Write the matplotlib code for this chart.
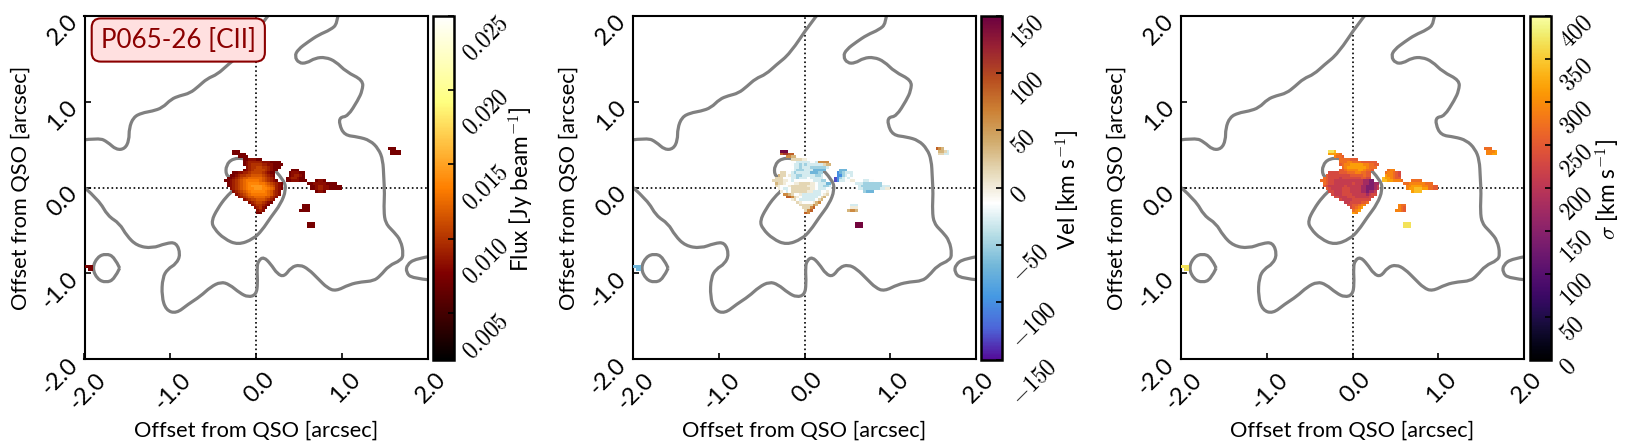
"""
Mapas de flujo, velocidad y dispersion de [CII] para P065-26, con el
contorno gris del continuo encima de cada panel.

Produce out.png.
"""
import matplotlib

matplotlib.use("Agg")
import matplotlib.pyplot as plt
import numpy as np
from matplotlib.colors import LinearSegmentedColormap
from matplotlib.patches import PathPatch
from matplotlib.path import Path
from matplotlib.transforms import ScaledTranslation

plt.rcParams["font.family"] = ["Lato", "DejaVu Sans"]
plt.rcParams["mathtext.fontset"] = "cm"

TICKS = [-2.0, -1.0, 0.0, 1.0, 2.0]
TICK_LABELS = ["-2.0", "-1.0", "0.0", "1.0", "2.0"]

FLUX_TICKS = [0.005, 0.010, 0.015, 0.020, 0.025]
VEL_TICKS = [-150, -100, -50, 0, 50, 100, 150]
SIGMA_TICKS = [0, 50, 100, 150, 200, 250, 300, 350, 400]

# niveles de cada caracter de los mapas
FLUX_LEVELS = [0.0073, 0.0083, 0.0092, 0.0100, 0.0108, 0.0116, 0.0124, 0.0131, 0.0138, 0.0146]
VEL_KEYS = "abcdefghijklm"
VEL_LEVELS = [-130, -100, -70, -50, -30, -15, 0, 15, 35, 60, 85, 110, 145]
SIGMA_KEYS = "abcdefghijk"
SIGMA_LEVELS = [140, 175, 210, 230, 250, 270, 292, 315, 340, 370, 395]

# pixeles con senal: fila y columna (relativas al centro) donde empieza cada tramo
RUN_ROW = [-15, -14, -14, -13, -13, -12, -11, -10, -9, -8, -7, -7, -6, -6, -5, -5, -4, -4,
           -3, -3, -3, -2, -2, -1, -1, 0, 0, 1, 1, 2, 3, 4, 5, 6, 6, 7, 7, 8, 8, 9, 13, 14, 29, 30]
RUN_COL = [49, -9, 50, -9, 50, -7, -5, -5, -5, -4, -5, 13, -9, 12, -10, 12, -11, 11,
           -12, 11, 22, -11, 19, -11, 20, -10, 20, -9, 22, -8, -7, -5, -3, -2, 17, -1, 17, 0, 16, 0, 19, 19, -64, -63]

FLUX_RUNS = ["000", "000", "0000", "00000", "0000", "0000", "0011100", "01222221110000",
             "012333322110000", "1233443321000", "0123444432100", "000", "0011223444432100", "011100",
             "00123344555543210", "012210", "001234556666654321", "0122100", "00123456777776543210",
             "00111000", "0110", "012345678888776543210", "00111110000", "012345678999987654210",
             "001221100000", "12345678899988765210", "001221100000", "123456788888765321", "0110",
             "12345677777765321", "123455666655321", "123445554321", "123443210", "1233210", "000",
             "12310", "000", "121", "0000", "00", "000", "000", "000", "00"]
VEL_RUNS = ["kji", "mmm", "iihe", "kllkk", "hhee", "jjii", "hhhhggf", "ffeeeeeffejjjj",
            "feededeeeeeehii", "eedeeedddddde", "fedddeeeccccc", "ccc", "hhffedeeeeecccdd", "bcdeee",
            "ihhfgeeddeeeeedde", "bbdefe", "hhhfffeedeeefeeeee", "abdefef", "hhhhggfefffffffeeedd",
            "abeeffgg", "eeff", "ihhgfffgghhhhggfeeecc", "eeedddddddf", "hgfffghhhhhhgggfeedde",
            "eddddddddeee", "gfeefhhhhhhhggfeeeff", "eeddddddeegg", "gfefhhhhhhggeeeffg", "dccc",
            "jjihffgeeeeeeefgh", "kkjhgfeeeeeefhi", "ghfeeeeeefhi", "hgffffgij", "hhhhhji", "eee",
            "hhhjk", "ggg", "hjk", "ijji", "kj", "mmm", "mmm", "ccc", "cc"]
SIGMA_RUNS = ["fff", "jji", "gggh", "hhhgf", "gghh", "gffe", "ffffeee", "fffggfffeeeeee",
              "efgghhhhhggffee", "fghhhhhhhgfff", "eefgggghhgffe", "fgg", "ddddeeefffggffee", "fggfed",
              "eddddddddeeeeefee", "hggfed", "feddddcdddddddeedd", "ihhgfee", "ffeddcccccccccccbbaa",
              "iihhgggf", "ffff", "feddcccccccdcccbbaabb", "ffggggggfff", "edccccccdcccccbbaaabc",
              "gghhhhggffee", "edccccdddccccbbaaabc", "ghhiiihhffee", "ddcccdddccccbbabbc", "hiii",
              "dcccddddcccccbcdd", "ddcccdddcccccdd", "dccccddddddd", "ccddddeef", "ddeefgg", "gff",
              "defgh", "gfe", "fgh", "ggfe", "hg", "jjj", "jjj", "jjj", "jj"]

# contornos del continuo, en arcsec
CONT_A_X = [-2.05, -1.83, -1.73, -1.63, -1.53, -1.48, -1.48, -1.43, -1.33, -1.21, -1.09, -0.99,
            -0.89, -0.77, -0.67, -0.57, -0.45, -0.33, -0.17, 0.07, 0.18]
CONT_A_Y = [0.55, 0.58, 0.53, 0.44, 0.45, 0.55, 0.69, 0.82, 0.87, 0.89, 0.93, 1.03,
            1.07, 1.10, 1.18, 1.27, 1.32, 1.43, 1.56, 1.92, 2.05]
CONT_B_X = [0.96, 0.95, 0.87, 0.73, 0.61, 0.49, 0.45, 0.50, 0.59, 0.69, 0.81, 0.93, 1.05, 1.25,
            1.24, 1.19, 1.07, 0.98, 0.97, 1.03, 1.19, 1.33, 1.43, 1.48, 1.49, 1.50, 1.49, 1.51,
            1.61, 1.69, 1.72, 1.69, 1.55, 1.45, 1.37, 1.23, 1.09, 0.93, 0.83, 0.73, 0.61, 0.51,
            0.41, 0.33, 0.25, 0.17, 0.09, 0.03, 0.01, 0.02, 0.00, -0.09, -0.19, -0.31, -0.41,
            -0.53, -0.65, -0.79, -0.93, -1.05, -1.10, -1.09, -1.03, -0.93, -0.88, -0.93, -1.05,
            -1.21, -1.39, -1.51, -1.59, -1.73, -1.83, -2.0]
CONT_B_Y = [2.05, 1.91, 1.84, 1.78, 1.70, 1.61, 1.53, 1.45, 1.45, 1.51, 1.52, 1.47, 1.35, 1.25,
            1.13, 1.02, 0.83, 0.82, 0.74, 0.61, 0.59, 0.55, 0.45, 0.32, 0.12, -0.07, -0.27, -0.42,
            -0.52, -0.62, -0.78, -0.85, -0.91, -1.03, -1.09, -1.10, -1.13, -1.21, -1.17, -1.07,
            -0.95, -0.90, -0.93, -1.04, -1.01, -0.89, -0.81, -0.85, -0.93, -1.13, -1.25, -1.28,
            -1.23, -1.13, -1.10, -1.16, -1.27, -1.36, -1.47, -1.43, -1.27, -1.05, -0.95, -0.89,
            -0.78, -0.64, -0.65, -0.71, -0.68, -0.56, -0.42, -0.33, -0.15, 0.00]
CONT_C_X = [0.23, 0.33, 0.35, 0.29, 0.17, 0.07, -0.03, -0.21, -0.37, -0.49, -0.52, -0.45, -0.35,
            -0.25, -0.29, -0.35, -0.35, -0.27, -0.13, 0.07, 0.23]
CONT_C_Y = [0.19, 0.08, -0.03, -0.19, -0.35, -0.50, -0.60, -0.67, -0.60, -0.48, -0.39, -0.25, -0.11,
            -0.02, 0.12, 0.14, 0.26, 0.34, 0.34, 0.28, 0.19]
CONT_D_X = [-1.59, -1.65, -1.75, -1.85, -1.91, -1.85, -1.75, -1.65, -1.59]
CONT_D_Y = [-0.94, -1.07, -1.11, -1.07, -0.94, -0.81, -0.77, -0.81, -0.94]
CONT_E_X = [2.05, 1.86, 1.76, 1.75, 1.82, 2.05]
CONT_E_Y = [-0.80, -0.83, -0.90, -0.99, -1.06, -1.08]

VEL_CMAP = LinearSegmentedColormap.from_list(
    "vel",
    [(0.33, 0.05, 0.60), (0.30, 0.40, 0.85), (0.27, 0.60, 0.89), (0.45, 0.72, 0.85), (0.72, 0.87, 0.90),
     (1.0, 1.0, 1.0), (0.90, 0.85, 0.72), (0.82, 0.67, 0.42), (0.80, 0.50, 0.20), (0.72, 0.30, 0.12),
     (0.60, 0.13, 0.20), (0.42, 0.0, 0.25)],
)

W, H = 1626.0, 443.0


def build_map(runs, levels, keys=None):
    img = np.full((128, 128), np.nan)
    for row, col, text in zip(RUN_ROW, RUN_COL, runs):
        for k, ch in enumerate(text):
            idx = keys.index(ch) if keys else int(ch)
            img[64 + row, 64 + col + k] = levels[idx]
    return np.ma.masked_invalid(img)


def smooth_path(xs, ys):
    # curva cuadratica: cada punto leido hace de control del tramo
    verts = [(xs[0], ys[0])]
    codes = [Path.MOVETO]
    for i in range(1, len(xs) - 1):
        verts.append((xs[i], ys[i]))
        if i < len(xs) - 2:
            verts.append(((xs[i] + xs[i + 1]) / 2, (ys[i] + ys[i + 1]) / 2))
        else:
            verts.append((xs[i + 1], ys[i + 1]))
        codes += [Path.CURVE3, Path.CURVE3]
    return Path(verts, codes)


def shift_labels(labels, fig, dx, dy):
    # corre las etiquetas rotadas, en pixeles
    offset = ScaledTranslation(dx / 100, dy / 100, fig.dpi_scale_trans)
    for lab in labels:
        lab.set_transform(lab.get_transform() + offset)


def panel(fig, x0, cbar_x0, img, cmap, vmin, vmax, cbar_ticks, cbar_fmt, cbar_label, label_x):
    ax = plt.axes([x0 / W, 1 - 359 / H, 343 / W, 343 / H])
    # contornos y cruz quedan por debajo del mapa
    ax.axhline(0, color="k", ls=":", lw=1.2, zorder=1)
    ax.axvline(0, color="k", ls=":", lw=1.2, zorder=1)
    for cx, cy in [(CONT_A_X, CONT_A_Y), (CONT_B_X, CONT_B_Y), (CONT_C_X, CONT_C_Y),
                   (CONT_D_X, CONT_D_Y), (CONT_E_X, CONT_E_Y)]:
        ax.add_patch(PathPatch(smooth_path(cx, cy), fc="none", ec="gray", lw=2.3, zorder=2))
    im = ax.imshow(img, cmap=cmap, vmin=vmin, vmax=vmax, extent=(-2, 2, -2, 2),
                   origin="upper", interpolation="nearest", zorder=3)
    ax.set_xlim(-2, 2)
    ax.set_ylim(-2, 2)
    ax.set_xticks(TICKS)
    ax.set_yticks(TICKS)
    ax.set_xticklabels(TICK_LABELS, rotation=45, fontsize=17)
    ax.set_yticklabels(TICK_LABELS, rotation=45, fontsize=17, va="top")
    ax.tick_params(direction="in", length=4, width=1.2, pad=5)
    ax.tick_params(axis="y", pad=2)
    shift_labels(ax.get_yticklabels(), fig, 0, 5)
    shift_labels(ax.get_xticklabels(), fig, 3, -3)
    ax.set_xlabel("Offset from QSO [arcsec]", fontsize=15.7, labelpad=5)
    ax.set_ylabel("Offset from QSO [arcsec]", fontsize=15.7, labelpad=5)
    for s in ax.spines.values():
        s.set_linewidth(1.5)

    cax = plt.axes([cbar_x0 / W, 1 - 359.5 / H, 21 / W, 344 / H])
    cb = plt.colorbar(im, cax=cax)
    cb.set_ticks(cbar_ticks)
    cb.set_ticklabels([cbar_fmt(t) for t in cbar_ticks])
    cax.tick_params(direction="in", length=4, width=1.2, labelsize=17, pad=4)
    for lab in cax.get_yticklabels():
        lab.set_rotation(45)
        lab.set_va("top")
    shift_labels(cax.get_yticklabels(), fig, 0, 4)
    cb.outline.set_linewidth(1.8)
    cb.set_label(cbar_label, fontsize=16.3)
    cax.yaxis.set_label_coords(label_x, 0.495)
    return ax


def main():
    fig = plt.figure(figsize=(W / 100, H / 100), dpi=100)

    flux = build_map(FLUX_RUNS, FLUX_LEVELS)
    vel = build_map(VEL_RUNS, VEL_LEVELS, VEL_KEYS)
    sigma = build_map(SIGMA_RUNS, SIGMA_LEVELS, SIGMA_KEYS)

    ax1 = panel(fig, 84.5, 432.5, flux, "afmhot", 0.0019, 0.025, FLUX_TICKS,
                lambda t: "$%.3f$" % t, "Flux [Jy beam$^{-1}$]", 3.6)
    panel(fig, 633, 981, vel, VEL_CMAP, -150, 150, VEL_TICKS,
          lambda t: "$%d$" % t, "Vel [km s$^{-1}$]", 3.52)
    panel(fig, 1181, 1530, sigma, "inferno", 0, 400, SIGMA_TICKS,
          lambda t: "$%d$" % t, "$\\sigma$ [km s$^{-1}$]", 3.1)

    ax1.text(-1.81, 1.72, "P065-26 [CII]", color="#8b0000", fontsize=18.7, ha="left", va="center",
             zorder=6, bbox=dict(boxstyle="round,pad=0.35", fc="#ffe0e0", ec="#8b0000", lw=1.5))

    plt.savefig("out.png", dpi=100)
    plt.close()


if __name__ == "__main__":
    main()
